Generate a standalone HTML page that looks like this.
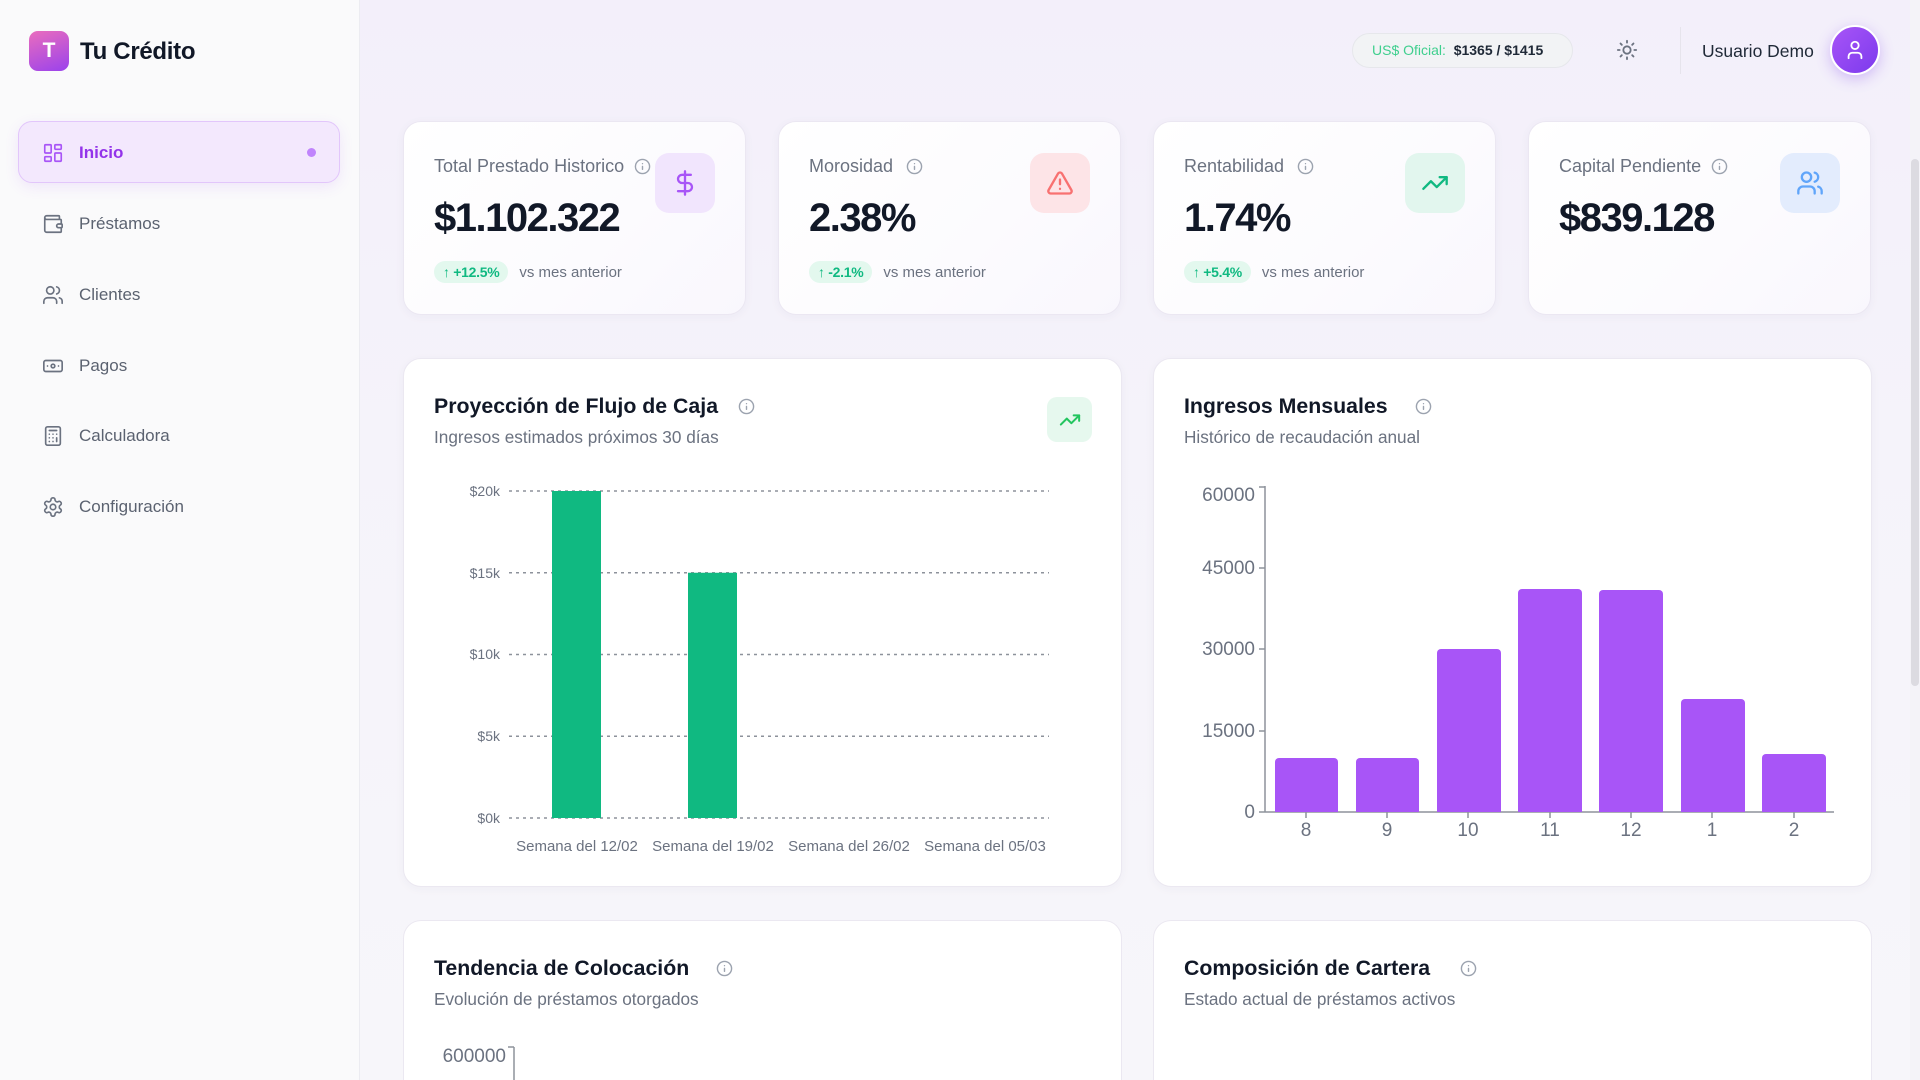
<!DOCTYPE html>
<html lang="es">
<head>
<meta charset="utf-8">
<style>
*{box-sizing:border-box;margin:0;padding:0}
html,body{width:1920px;height:1080px;overflow:hidden}
body{font-family:"Liberation Sans",Arial,sans-serif;color:#111827}
#root{position:relative;width:1920px;height:1080px;overflow:hidden;background:linear-gradient(180deg,#f3effa 0%,#f5f3fa 40%,#f7f6fa 100%)}
.abs{position:absolute}
.sidebar{position:absolute;left:0;top:0;width:360px;height:1080px;background:#fafafb;border-right:1px solid #ececf1}
.logo{left:29px;top:31px;width:40px;height:40px;border-radius:9px;background:linear-gradient(160deg,#ea6dbd,#9a42ec);color:#fff;font-weight:bold;font-size:21px;line-height:40px;text-align:center}
.brand{left:80px;top:38px;font-size:24px;font-weight:bold;line-height:28px;color:#111827;letter-spacing:-0.3px}
.navact{left:18px;top:121px;width:322px;height:62px;border-radius:14px;background:#f3e8fd;border:1px solid #e2c6fb;box-shadow:0 4px 14px rgba(168,85,247,.12)}
.nav{left:42px;height:24px;display:flex;align-items:center}
.nav svg{width:22px;height:22px;fill:none;stroke:#6b7280;stroke-width:1.8;stroke-linecap:round;stroke-linejoin:round}
.nav span{position:absolute;left:37px;font-size:17px;color:#5b6270;white-space:nowrap;line-height:24px}
.card{position:absolute;background:linear-gradient(135deg,#ffffff 0%,#fcfbfe 60%,#f9f7fd 100%);border:1px solid #ebe7f2;border-radius:18px;box-shadow:0 2px 10px rgba(60,40,100,.04)}
.lbl{position:absolute;left:30px;top:33px;font-size:18px;line-height:22px;color:#6b7280;white-space:nowrap;display:flex;align-items:center}
.lbl svg{margin-left:10px}
.info{width:17px;height:17px;fill:none;stroke:#9ca3af;stroke-width:2;stroke-linecap:round}
.val{position:absolute;left:30px;top:72px;font-size:40px;font-weight:bold;letter-spacing:-1.5px;line-height:48px;color:#111827;white-space:nowrap}
.ibox{position:absolute;left:251px;top:31px;width:60px;height:60px;border-radius:14px;display:flex;align-items:center;justify-content:center}
.ibox svg{width:28px;height:28px;fill:none;stroke-width:2;stroke-linecap:round;stroke-linejoin:round}
.trend{position:absolute;left:30px;top:139px;display:flex;align-items:center;white-space:nowrap}
.badge{height:22px;line-height:22px;padding:0 9px;border-radius:11px;background:#e3f8ee;color:#10b981;font-size:14px;font-weight:bold;letter-spacing:-0.3px}
.vs{margin-left:11px;font-size:15px;color:#6b7280}
.ccard{position:absolute;background:#fff;border:1px solid #ebe8f1;border-radius:18px;box-shadow:0 2px 10px rgba(60,40,100,.04)}
.ccard.bot{height:160px;border-bottom:none;border-radius:18px 18px 0 0;box-shadow:none}
.ctitle{position:absolute;left:30px;top:34px;font-size:21.3px;font-weight:bold;line-height:26px;color:#111827;white-space:nowrap}
.csub{position:absolute;left:30px;top:68px;font-size:17.2px;line-height:21px;color:#6b7280;white-space:nowrap}
.cinfo{position:absolute;width:17px;height:17px}
</style>
</head>
<body>
<div id="root">

<!-- Sidebar -->
<div class="sidebar"></div>
<div class="abs logo">T</div>
<div class="abs brand">Tu Crédito</div>
<div class="abs navact"></div>
<div class="abs" style="left:307px;top:148px;width:9px;height:9px;border-radius:50%;background:#c084fc"></div>

<div class="abs nav" style="top:141px">
<svg viewBox="0 0 24 24" style="stroke:#a855f7"><rect x="3" y="3" width="7" height="9" rx="1"/><rect x="14" y="3" width="7" height="5" rx="1"/><rect x="14" y="12" width="7" height="9" rx="1"/><rect x="3" y="16" width="7" height="5" rx="1"/></svg>
<span style="color:#9333ea;font-weight:bold">Inicio</span></div>

<div class="abs nav" style="top:212px">
<svg viewBox="0 0 24 24"><path d="M19 7V4a1 1 0 0 0-1-1H5a2 2 0 0 0 0 4h15a1 1 0 0 1 1 1v4h-3a2 2 0 0 0 0 4h3a1 1 0 0 0 1-1v-2a1 1 0 0 0-1-1"/><path d="M3 5v14a2 2 0 0 0 2 2h15a1 1 0 0 0 1-1v-4"/></svg>
<span>Préstamos</span></div>

<div class="abs nav" style="top:283px">
<svg viewBox="0 0 24 24"><path d="M16 21v-2a4 4 0 0 0-4-4H6a4 4 0 0 0-4 4v2"/><circle cx="9" cy="7" r="4"/><path d="M22 21v-2a4 4 0 0 0-3-3.87"/><path d="M16 3.13a4 4 0 0 1 0 7.75"/></svg>
<span>Clientes</span></div>

<div class="abs nav" style="top:354px">
<svg viewBox="0 0 24 24"><rect x="2" y="6" width="20" height="12" rx="2"/><circle cx="12" cy="12" r="2"/><path d="M6 12h.01M18 12h.01"/></svg>
<span>Pagos</span></div>

<div class="abs nav" style="top:424px">
<svg viewBox="0 0 24 24"><rect x="4" y="2" width="16" height="20" rx="2"/><line x1="8" y1="6" x2="16" y2="6"/><path d="M16 14v4M8 10h.01M12 10h.01M16 10h.01M12 14h.01M8 14h.01M12 18h.01M8 18h.01"/></svg>
<span>Calculadora</span></div>

<div class="abs nav" style="top:495px">
<svg viewBox="0 0 24 24"><path d="M12.22 2h-.44a2 2 0 0 0-2 2v.18a2 2 0 0 1-1 1.73l-.43.25a2 2 0 0 1-2 0l-.15-.08a2 2 0 0 0-2.73.73l-.22.38a2 2 0 0 0 .73 2.73l.15.1a2 2 0 0 1 1 1.72v.51a2 2 0 0 1-1 1.74l-.15.09a2 2 0 0 0-.73 2.73l.22.38a2 2 0 0 0 2.73.73l.15-.08a2 2 0 0 1 2 0l.43.25a2 2 0 0 1 1 1.73V20a2 2 0 0 0 2 2h.44a2 2 0 0 0 2-2v-.18a2 2 0 0 1 1-1.73l.43-.25a2 2 0 0 1 2 0l.15.08a2 2 0 0 0 2.73-.73l.22-.39a2 2 0 0 0-.73-2.73l-.15-.08a2 2 0 0 1-1-1.74v-.5a2 2 0 0 1 1-1.74l.15-.09a2 2 0 0 0 .73-2.73l-.22-.38a2 2 0 0 0-2.73-.73l-.15.08a2 2 0 0 1-2 0l-.43-.25a2 2 0 0 1-1-1.73V4a2 2 0 0 0-2-2z"/><circle cx="12" cy="12" r="3"/></svg>
<span>Configuración</span></div>

<!-- Header -->
<div class="abs" style="left:1352px;top:33px;width:221px;height:35px;border-radius:18px;background:#f2f3f5;border:1px solid #e6e7eb;font-size:14px;line-height:33px;padding-left:19px;white-space:nowrap">
<span style="color:#3fcf8e">US$ Oficial:</span>&nbsp;&nbsp;<span style="color:#1f2937;font-weight:bold">$1365 / $1415</span></div>
<svg class="abs" style="left:1616px;top:39px;width:22px;height:22px" viewBox="0 0 24 24" fill="none" stroke="#6b7280" stroke-width="2" stroke-linecap="round"><circle cx="12" cy="12" r="4"/><path d="M12 2v2M12 20v2M4.93 4.93l1.41 1.41M17.66 17.66l1.41 1.41M2 12h2M20 12h2M6.34 17.66l-1.41 1.41M19.07 4.93l-1.41 1.41"/></svg>
<div class="abs" style="left:1680px;top:27px;width:1px;height:47px;background:#e6e4ec"></div>
<div class="abs" style="left:1702px;top:40px;font-size:17.5px;line-height:22px;color:#1f2937;white-space:nowrap">Usuario Demo</div>
<div class="abs" style="left:1830px;top:25px;width:50px;height:50px;border-radius:50%;background:linear-gradient(135deg,#a855f7,#7c3aed);box-shadow:0 4px 14px rgba(124,58,237,.3);border:2px solid #fff;display:flex;align-items:center;justify-content:center">
<svg width="22" height="22" viewBox="0 0 24 24" fill="none" stroke="#fff" stroke-width="2" stroke-linecap="round"><path d="M19 21v-2a4 4 0 0 0-4-4H9a4 4 0 0 0-4 4v2"/><circle cx="12" cy="7" r="4"/></svg></div>

<!-- KPI cards -->
<div class="card" style="left:403px;top:121px;width:343px;height:194px">
 <div class="lbl">Total Prestado Historico<svg class="info" viewBox="0 0 24 24"><circle cx="12" cy="12" r="10"/><path d="M12 16v-4M12 8h.01"/></svg></div>
 <div class="ibox" style="background:#f1e5fd"><svg viewBox="0 0 24 24" stroke="#a855f7"><line x1="12" y1="2" x2="12" y2="22"/><path d="M17 5H9.5a3.5 3.5 0 0 0 0 7h5a3.5 3.5 0 0 1 0 7H6"/></svg></div>
 <div class="val">$1.102.322</div>
 <div class="trend"><span class="badge">↑ +12.5%</span><span class="vs">vs mes anterior</span></div>
</div>
<div class="card" style="left:778px;top:121px;width:343px;height:194px">
 <div class="lbl">Morosidad<svg class="info" viewBox="0 0 24 24" style="margin-left:13px"><circle cx="12" cy="12" r="10"/><path d="M12 16v-4M12 8h.01"/></svg></div>
 <div class="ibox" style="background:#fde4e7"><svg viewBox="0 0 24 24" stroke="#f87171"><path d="m21.73 18-8-14a2 2 0 0 0-3.48 0l-8 14A2 2 0 0 0 4 21h16a2 2 0 0 0 1.73-3"/><path d="M12 9v4M12 17h.01"/></svg></div>
 <div class="val">2.38%</div>
 <div class="trend"><span class="badge">↑ -2.1%</span><span class="vs">vs mes anterior</span></div>
</div>
<div class="card" style="left:1153px;top:121px;width:343px;height:194px">
 <div class="lbl">Rentabilidad<svg class="info" viewBox="0 0 24 24" style="margin-left:13px"><circle cx="12" cy="12" r="10"/><path d="M12 16v-4M12 8h.01"/></svg></div>
 <div class="ibox" style="background:#e2f6ee"><svg viewBox="0 0 24 24" stroke="#10b981"><polyline points="22 7 13.5 15.5 8.5 10.5 2 17"/><polyline points="16 7 22 7 22 13"/></svg></div>
 <div class="val">1.74%</div>
 <div class="trend"><span class="badge">↑ +5.4%</span><span class="vs">vs mes anterior</span></div>
</div>
<div class="card" style="left:1528px;top:121px;width:343px;height:194px">
 <div class="lbl">Capital Pendiente<svg class="info" viewBox="0 0 24 24"><circle cx="12" cy="12" r="10"/><path d="M12 16v-4M12 8h.01"/></svg></div>
 <div class="ibox" style="background:#e3ecfd"><svg viewBox="0 0 24 24" stroke="#60a5fa"><path d="M16 21v-2a4 4 0 0 0-4-4H6a4 4 0 0 0-4 4v2"/><circle cx="9" cy="7" r="4"/><path d="M22 21v-2a4 4 0 0 0-3-3.87"/><path d="M16 3.13a4 4 0 0 1 0 7.75"/></svg></div>
 <div class="val">$839.128</div>
</div>

<!-- Chart cards -->
<div class="ccard" style="left:403px;top:358px;width:719px;height:529px">
 <div class="ctitle">Proyección de Flujo de Caja</div>
 <svg class="cinfo info" style="left:334px;top:39px" viewBox="0 0 24 24"><circle cx="12" cy="12" r="10"/><path d="M12 16v-4M12 8h.01"/></svg>
 <div class="csub">Ingresos estimados próximos 30 días</div>
 <div class="abs" style="left:643px;top:38px;width:45px;height:45px;border-radius:10px;background:#e6f8ee;display:flex;align-items:center;justify-content:center">
 <svg width="22" height="22" viewBox="0 0 24 24" fill="none" stroke="#22c55e" stroke-width="2.2" stroke-linecap="round" stroke-linejoin="round"><polyline points="22 7 13.5 15.5 8.5 10.5 2 17"/><polyline points="16 7 22 7 22 13"/></svg></div>
</div>
<div class="ccard" style="left:1153px;top:358px;width:719px;height:529px">
 <div class="ctitle">Ingresos Mensuales</div>
 <svg class="cinfo info" style="left:261px;top:39px" viewBox="0 0 24 24"><circle cx="12" cy="12" r="10"/><path d="M12 16v-4M12 8h.01"/></svg>
 <div class="csub">Histórico de recaudación anual</div>
</div>

<!-- Bottom cards (cut by viewport) -->
<div class="ccard bot" style="left:403px;top:920px;width:719px">
 <div class="ctitle">Tendencia de Colocación</div>
 <svg class="cinfo info" style="left:312px;top:39px" viewBox="0 0 24 24"><circle cx="12" cy="12" r="10"/><path d="M12 16v-4M12 8h.01"/></svg>
 <div class="csub">Evolución de préstamos otorgados</div>
</div>
<div class="ccard bot" style="left:1153px;top:920px;width:719px">
 <div class="ctitle">Composición de Cartera</div>
 <svg class="cinfo info" style="left:306px;top:39px" viewBox="0 0 24 24"><circle cx="12" cy="12" r="10"/><path d="M12 16v-4M12 8h.01"/></svg>
 <div class="csub">Estado actual de préstamos activos</div>
</div>

<!-- Charts overlay -->
<svg class="abs" style="left:0;top:0" width="1920" height="1080" viewBox="0 0 1920 1080" font-family="Liberation Sans, Arial, sans-serif">
 <g stroke="#8d929b" stroke-width="1.5" stroke-dasharray="3 4">
  <line x1="509" y1="491" x2="1049" y2="491"/>
  <line x1="509" y1="572.75" x2="1049" y2="572.75"/>
  <line x1="509" y1="654.5" x2="1049" y2="654.5"/>
  <line x1="509" y1="736.25" x2="1049" y2="736.25"/>
  <line x1="509" y1="818" x2="1049" y2="818"/>
 </g>
 <g font-size="14" fill="#6b7280" text-anchor="end">
  <text x="500" y="496">$20k</text>
  <text x="500" y="578">$15k</text>
  <text x="500" y="659">$10k</text>
  <text x="500" y="741">$5k</text>
  <text x="500" y="823">$0k</text>
 </g>
 <rect x="552" y="491" width="49" height="327" fill="#10b981"/>
 <rect x="688" y="572.75" width="49" height="245.25" fill="#10b981"/>
 <g font-size="15" fill="#6b7280" text-anchor="middle">
  <text x="577" y="851">Semana del 12/02</text>
  <text x="713" y="851">Semana del 19/02</text>
  <text x="849" y="851">Semana del 26/02</text>
  <text x="985" y="851">Semana del 05/03</text>
 </g>

 <g stroke="#8d929b" stroke-width="1.5" fill="none">
  <line x1="1265" y1="486" x2="1265" y2="812"/>
  <line x1="1265" y1="812" x2="1834" y2="812"/>
  <line x1="1259" y1="487" x2="1265" y2="487"/>
  <line x1="1259" y1="568" x2="1265" y2="568"/>
  <line x1="1259" y1="649" x2="1265" y2="649"/>
  <line x1="1259" y1="731" x2="1265" y2="731"/>
  <line x1="1259" y1="812" x2="1265" y2="812"/>
  <line x1="1306" y1="812" x2="1306" y2="818"/>
  <line x1="1387" y1="812" x2="1387" y2="818"/>
  <line x1="1468" y1="812" x2="1468" y2="818"/>
  <line x1="1550" y1="812" x2="1550" y2="818"/>
  <line x1="1631" y1="812" x2="1631" y2="818"/>
  <line x1="1712" y1="812" x2="1712" y2="818"/>
  <line x1="1794" y1="812" x2="1794" y2="818"/>
 </g>
 <g font-size="19" fill="#6b7280" text-anchor="end">
  <text x="1255" y="501">60000</text>
  <text x="1255" y="574">45000</text>
  <text x="1255" y="655">30000</text>
  <text x="1255" y="737">15000</text>
  <text x="1255" y="818">0</text>
 </g>
 <g fill="#a855f7">
  <path d="M1275 812V762a4 4 0 0 1 4-4h55a4 4 0 0 1 4 4V812z"/>
  <path d="M1356 812V762a4 4 0 0 1 4-4h55a4 4 0 0 1 4 4V812z"/>
  <path d="M1437 812V653a4 4 0 0 1 4-4h56a4 4 0 0 1 4 4V812z"/>
  <path d="M1518 812V593a4 4 0 0 1 4-4h56a4 4 0 0 1 4 4V812z"/>
  <path d="M1599 812V594a4 4 0 0 1 4-4h56a4 4 0 0 1 4 4V812z"/>
  <path d="M1681 812V703a4 4 0 0 1 4-4h56a4 4 0 0 1 4 4V812z"/>
  <path d="M1762 812V758a4 4 0 0 1 4-4h56a4 4 0 0 1 4 4V812z"/>
 </g>
 <g font-size="19" fill="#6b7280" text-anchor="middle">
  <text x="1306" y="836">8</text>
  <text x="1387" y="836">9</text>
  <text x="1468" y="836">10</text>
  <text x="1550" y="836">11</text>
  <text x="1631" y="836">12</text>
  <text x="1712" y="836">1</text>
  <text x="1794" y="836">2</text>
 </g>

 <g stroke="#8d929b" stroke-width="1.5" fill="none">
  <line x1="514" y1="1047" x2="514" y2="1080"/>
  <line x1="508" y1="1047" x2="514" y2="1047"/>
 </g>
 <text x="506" y="1062" font-size="19" fill="#6b7280" text-anchor="end">600000</text>
</svg>

<!-- Scrollbar -->
<div class="abs" style="left:1910px;top:0;width:10px;height:1080px;background:#f4f3f8"></div>
<div class="abs" style="left:1911px;top:159px;width:8px;height:527px;border-radius:4px;background:#dcdbe1"></div>

</div>
</body>
</html>
